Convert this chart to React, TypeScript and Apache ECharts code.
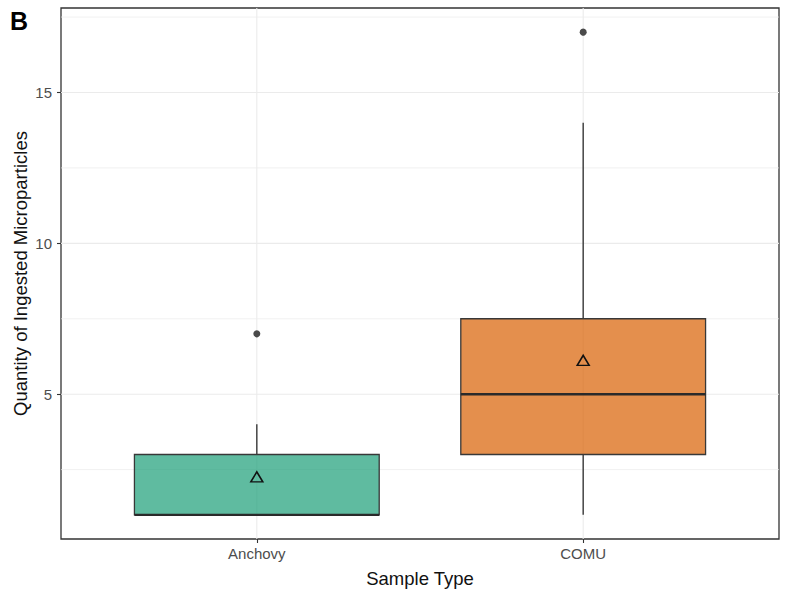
import React, { useEffect, useRef } from "react";
import * as echarts from "echarts";

const categories = ["Anchovy", "COMU"];
const lowerWhisker = [1, 1];
const q1 = [1, 3];
const median = [1, 5];
const q3 = [3, 7.5];
const upperWhisker = [4, 14];
const outlierCategory = ["Anchovy", "COMU"];
const outlierValues = [7, 17];
const means = [2.26, 6.12];
const yTickValues = [5, 10, 15];
const yMinorGrid = [2.5, 7.5, 12.5, 17.5];
const fills = ["rgba(27,158,119,0.7)", "rgba(217,95,2,0.7)"];

const FONT = "'Liberation Sans', Arial, sans-serif";

export default function App() {
  const ref = useRef<HTMLDivElement>(null);
  useEffect(() => {
    if (!ref.current) return;
    const chart = echarts.init(ref.current, null, { renderer: "svg" });
    const xPos = (c: string) => categories.indexOf(c) + 1;
    const boxData = categories.map((c, i) => [
      i + 1,
      lowerWhisker[i],
      q1[i],
      median[i],
      q3[i],
      upperWhisker[i],
      i,
    ]);
    const hGrid = [
      ...yTickValues.map((v) => [v, 1]),
      ...yMinorGrid.map((v) => [v, 0]),
    ];
    const vGrid = categories.map((c) => [xPos(c)]);

    chart.setOption({
      animation: false,
      backgroundColor: "#ffffff",
      grid: {
        left: 61,
        right: 6,
        top: 8,
        bottom: 53,
        show: true,
        borderColor: "#333333",
        borderWidth: 1.3,
        backgroundColor: "transparent",
        containLabel: false,
        outerBoundsMode: "none",
      },
      xAxis: {
        type: "value",
        min: 0.4,
        max: 2.6,
        axisLine: { show: false },
        splitLine: { show: false },
        axisTick: {
          show: true,
          customValues: categories.map((c) => xPos(c)),
          length: 4,
          lineStyle: { color: "#333333", width: 1.1 },
        },
        axisLabel: {
          customValues: categories.map((c) => xPos(c)),
          formatter: (v: number) => categories[Math.round(v) - 1] ?? "",
          color: "#4d4d4d",
          fontSize: 15,
          fontFamily: FONT,
          margin: 7,
        },
      },
      yAxis: {
        type: "value",
        min: 0.2,
        max: 17.8,
        axisLine: { show: false },
        splitLine: { show: false },
        axisTick: {
          show: true,
          customValues: yTickValues,
          length: 4,
          lineStyle: { color: "#333333", width: 1.1 },
        },
        axisLabel: {
          customValues: yTickValues,
          color: "#4d4d4d",
          fontSize: 15,
          fontFamily: FONT,
          margin: 9,
        },
      },
      graphic: [
        {
          type: "text",
          left: 10,
          top: 8,
          style: {
            text: "B",
            font: `bold 25px ${FONT}`,
            fill: "#000000",
          },
        },
        {
          type: "text",
          x: 20,
          y: 273.5,
          rotation: Math.PI / 2,
          style: {
            text: "Quantity of Ingested Microparticles",
            font: `18.5px ${FONT}`,
            fill: "#111111",
            textAlign: "center",
            textVerticalAlign: "middle",
          },
        },
        {
          type: "text",
          x: 420,
          y: 578,
          style: {
            text: "Sample Type",
            font: `18.5px ${FONT}`,
            fill: "#111111",
            textAlign: "center",
            textVerticalAlign: "middle",
          },
        },
      ],
      series: [
        {
          type: "custom",
          z: 1,
          silent: true,
          data: hGrid,
          renderItem: (params: any, api: any) => {
            const v = api.value(0);
            const major = api.value(1) === 1;
            const y = api.coord([1, v])[1];
            const cs = params.coordSys;
            return {
              type: "line",
              shape: { x1: cs.x, y1: y, x2: cs.x + cs.width, y2: y },
              style: { stroke: "#ebebeb", lineWidth: major ? 1.1 : 0.7 },
            };
          },
        },
        {
          type: "custom",
          z: 1,
          silent: true,
          data: vGrid,
          renderItem: (params: any, api: any) => {
            const x = api.coord([api.value(0), 5])[0];
            const cs = params.coordSys;
            return {
              type: "line",
              shape: { x1: x, y1: cs.y, x2: x, y2: cs.y + cs.height },
              style: { stroke: "#ebebeb", lineWidth: 1.1 },
            };
          },
        },
        {
          type: "custom",
          z: 3,
          data: boxData,
          renderItem: (params: any, api: any) => {
            const x = api.value(0);
            const lw = api.value(1);
            const b1 = api.value(2);
            const med = api.value(3);
            const b3 = api.value(4);
            const uw = api.value(5);
            const idx = api.value(6);
            const half = 0.375;
            const topLeft = api.coord([x - half, b3]);
            const botRight = api.coord([x + half, b1]);
            const cTop = api.coord([x, b3]);
            const cUw = api.coord([x, uw]);
            const cBot = api.coord([x, b1]);
            const cLw = api.coord([x, lw]);
            const mL = api.coord([x - half, med]);
            const mR = api.coord([x + half, med]);
            const stroke = "#383838";
            return {
              type: "group",
              children: [
                {
                  type: "line",
                  shape: { x1: cTop[0], y1: cTop[1], x2: cUw[0], y2: cUw[1] },
                  style: { stroke, lineWidth: 1.4 },
                },
                {
                  type: "line",
                  shape: { x1: cBot[0], y1: cBot[1], x2: cLw[0], y2: cLw[1] },
                  style: { stroke, lineWidth: 1.4 },
                },
                {
                  type: "rect",
                  shape: {
                    x: topLeft[0],
                    y: topLeft[1],
                    width: botRight[0] - topLeft[0],
                    height: botRight[1] - topLeft[1],
                  },
                  style: { fill: fills[idx], stroke, lineWidth: 1.3 },
                },
                {
                  type: "line",
                  shape: { x1: mL[0], y1: mL[1], x2: mR[0], y2: mR[1] },
                  style: { stroke: "#2a2a2a", lineWidth: 2.4 },
                },
              ],
            };
          },
        },
        {
          type: "scatter",
          z: 4,
          silent: true,
          symbol: "circle",
          symbolSize: 7,
          itemStyle: { color: "#4a4a4a", opacity: 1 },
          data: outlierCategory.map((c, i) => [xPos(c), outlierValues[i]]),
        },
        {
          type: "scatter",
          z: 5,
          silent: true,
          symbol: "triangle",
          symbolSize: [12, 10],
          itemStyle: {
            color: "rgba(0,0,0,0)",
            borderColor: "#111111",
            borderWidth: 1.5,
            opacity: 1,
          },
          data: categories.map((c, i) => [xPos(c), means[i]]),
        },
      ],
    });
    return () => chart.dispose();
  }, []);

  return (
    <div
      ref={ref}
      style={{ position: "fixed", left: 0, top: 0, width: 785, height: 592 }}
    />
  );
}
